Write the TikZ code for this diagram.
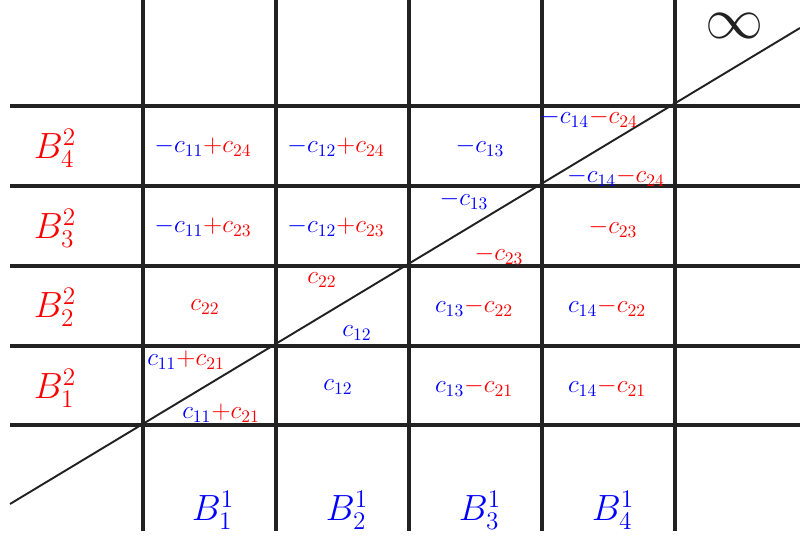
\documentclass[tikz,border=0pt]{standalone}
\usepackage{xcolor}
\definecolor{ink}{HTML}{222222}
\tikzset{
  gridline/.style={ink, line width=2pt},
  cutline/.style={ink, line width=1.1pt},
  cost/.style={font=\Large},
  axislab/.style={font=\huge}
}
\newcommand{\colb}[1]{{\color{blue}#1}}
\newcommand{\colr}[1]{{\color{red}#1}}

\begin{document}
\begin{tikzpicture}
\useasboundingbox (0,0) rectangle (16,10.78);

% =========================
% GRID
% =========================
\foreach \x in {2.86,5.52,8.18,10.84,13.5} {
    \draw[gridline] (\x,0.16) -- (\x,10.78);
}
\foreach \y in {2.28,3.86,5.46,7.06,8.66} {
    \draw[gridline] (0.2,\y) -- (16,\y);
}

% =========================
% CUT LINE (through the corners)
% =========================
\coordinate (cutA) at (0.2,0.7);
\coordinate (cutB) at (16,10.22);
\draw[cutline] (cutA) -- (cutB);

% infinity corner
\node[ink, scale=1.33, inner sep=0pt] (inf) at (14.7,10.26) {\Huge$\infty$};

% =========================
% ROW LABELS (second family)
% =========================
\node[axislab] (r4) at (1.1,7.82) {\colr{$B^2_4$}};
\node[axislab] (r3) at (1.1,6.22) {\colr{$B^2_3$}};
\node[axislab] (r2) at (1.1,4.64) {\colr{$B^2_2$}};
\node[axislab] (r1) at (1.1,3.02) {\colr{$B^2_1$}};

% =========================
% COLUMN LABELS (first family)
% =========================
\node[axislab] (k1) at (4.26,0.58) {\colb{$B^1_1$}};
\node[axislab] (k2) at (6.94,0.58) {\colb{$B^1_2$}};
\node[axislab] (k3) at (9.6,0.58) {\colb{$B^1_3$}};
\node[axislab] (k4) at (12.26,0.58) {\colb{$B^1_4$}};

% =========================
% CELL COSTS
% =========================
% row 4
\node[cost] (a14) at (4.06,7.84) {$\colb{-c_{11}}\colr{+c_{24}}$};
\node[cost] (a24) at (6.72,7.84) {$\colb{-c_{12}}\colr{+c_{24}}$};
\node[cost] (a34) at (9.6,7.84) {$\colb{-c_{13}}$};
\node[cost] (a44u) at (11.78,8.42) {$\colb{-c_{14}}\colr{-c_{24}}$};
\node[cost] (a44l) at (12.32,7.24) {$\colb{-c_{14}}\colr{-c_{24}}$};

% row 3
\node[cost] (a13) at (4.06,6.24) {$\colb{-c_{11}}\colr{+c_{23}}$};
\node[cost] (a23) at (6.72,6.24) {$\colb{-c_{12}}\colr{+c_{23}}$};
\node[cost] (a33u) at (9.28,6.78) {$\colb{-c_{13}}$};
\node[cost] (a33l) at (9.98,5.68) {$\colr{-c_{23}}$};
\node[cost] (a43) at (12.26,6.22) {$\colr{-c_{23}}$};

% row 2
\node[cost] (a12) at (4.1,4.64) {$\colr{c_{22}}$};
\node[cost] (a22u) at (6.44,5.18) {$\colr{c_{22}}$};
\node[cost] (a22l) at (7.14,4.12) {$\colb{c_{12}}$};
\node[cost] (a32) at (9.48,4.64) {$\colb{c_{13}}\colr{-c_{22}}$};
\node[cost] (a42) at (12.14,4.64) {$\colb{c_{14}}\colr{-c_{22}}$};

% row 1
\node[cost] (a11u) at (3.72,3.58) {$\colb{c_{11}}\colr{+c_{21}}$};
\node[cost] (a11l) at (4.42,2.52) {$\colb{c_{11}}\colr{+c_{21}}$};
\node[cost] (a21) at (6.76,3.04) {$\colb{c_{12}}$};
\node[cost] (a31) at (9.48,3.04) {$\colb{c_{13}}\colr{-c_{21}}$};
\node[cost] (a41) at (12.14,3.04) {$\colb{c_{14}}\colr{-c_{21}}$};

\end{tikzpicture}
\end{document}
